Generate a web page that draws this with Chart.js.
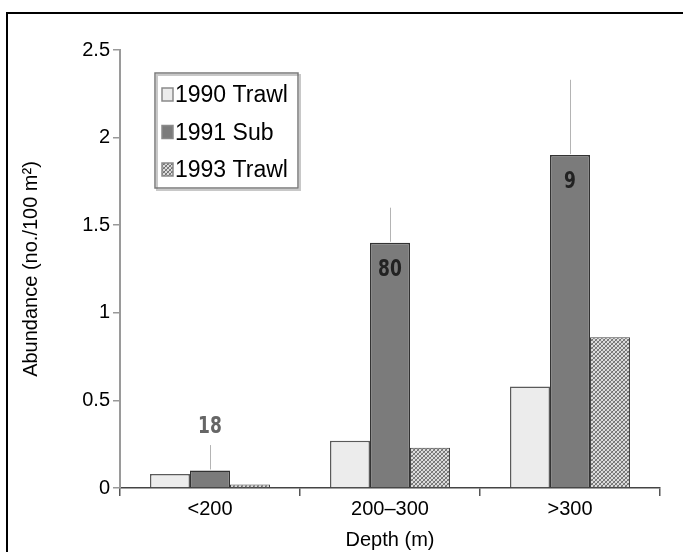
<!DOCTYPE html>
<html>
<head>
<meta charset="utf-8">
<script src="https://cdn.jsdelivr.net/npm/chart.js@4.4.0/dist/chart.umd.min.js"></script>
<style>
html, body { margin: 0; padding: 0; background: #fff; }
#wrap { position: relative; width: 683px; height: 552px; overflow: hidden; }
#frame { position: absolute; left: 6px; top: 12px; right: -10px; bottom: -10px; border-top: 2px solid #000; border-left: 2px solid #000; }
canvas { position: absolute; left: 0; top: 0; }
</style>
</head>
<body>
<div id="wrap"><div id="frame"></div><canvas id="chart" width="683" height="552"></canvas></div>
<script>
const categories = ['<200', '200–300', '>300'];
const trawl1990 = [0.08, 0.27, 0.58];
const sub1991 = [0.10, 1.40, 1.90];
const trawl1993 = [0.02, 0.23, 0.86];
const sub1991Upper = [0.245, 1.60, 2.33];   // top of the error line
const sub1991Counts = ['18', '80', '9'];
const yTicks = [0, 0.5, 1, 1.5, 2, 2.5];
const yTickLabels = ['0', '0.5', '1', '1.5', '2', '2.5'];

const FONT = "'Liberation Sans', Arial, sans-serif";
const canvas = document.getElementById('chart');

function hatch() {
	const c = document.createElement('canvas');
	c.width = 4;
	c.height = 4;
	const g = c.getContext('2d');
	g.fillStyle = '#dcdcdc';
	g.fillRect(0, 0, 4, 4);
	g.fillStyle = '#6e6e6e';
	for (let i = 0; i < 4; i++) g.fillRect(i, 3 - i, 1, 1);
	g.fillStyle = '#8c8c8c';
	for (let i = 0; i < 4; i++) g.fillRect(i, i, 1, 1);
	return canvas.getContext('2d').createPattern(c, 'repeat');
}

/* error line, sample size and the boxed legend */
const annotate = {
	id: 'annotate',
	afterDatasetsDraw(chart) {
		const ctx = chart.ctx;
		const y = chart.scales.y;
		const meta = chart.getDatasetMeta(1);
		ctx.save();
		meta.data.forEach((bar, i) => {
			const top = y.getPixelForValue(sub1991Upper[i]);
			const x = Math.round(bar.x) + 0.5;
			ctx.strokeStyle = '#b4b4b4';
			ctx.lineWidth = 1;
			ctx.beginPath();
			ctx.moveTo(x, bar.y - 1);
			ctx.lineTo(x, top);
			ctx.stroke();

			const inside = bar.base - bar.y > 60;
			const ly = inside ? bar.y + 27 : top - 18;
			ctx.save();
			ctx.translate(bar.x, ly);
			ctx.scale(1, 1.25);
			ctx.font = "bold 19px 'Liberation Sans Narrow', 'DejaVu Sans Condensed', sans-serif";
			ctx.fillStyle = inside ? '#222' : '#666';
			ctx.textAlign = 'center';
			ctx.textBaseline = 'middle';
			ctx.fillText(sub1991Counts[i], 0, 0);
			ctx.restore();
		});

		/* legend box */
		const area = chart.chartArea;
		const bx = area.left + 35, by = area.top + 23, bw = 143, bh = 115;
		ctx.fillStyle = '#fff';
		ctx.fillRect(bx, by, bw, bh);
		ctx.strokeStyle = '#c8c8c8';
		ctx.lineWidth = 2;
		ctx.strokeRect(bx + 2, by + 2, bw, bh);
		ctx.strokeStyle = '#7a7a7a';
		ctx.lineWidth = 1.5;
		ctx.strokeRect(bx, by, bw, bh);
		ctx.font = '23px ' + FONT;
		ctx.textBaseline = 'middle';
		ctx.textAlign = 'left';
		chart.data.datasets.forEach((ds, i) => {
			const cy = by + 22 + i * 37.5;
			ctx.fillStyle = ds.backgroundColor;
			ctx.fillRect(bx + 7, cy - 7, 11, 13);
			ctx.strokeStyle = '#8a8a8a';
			ctx.lineWidth = 1.5;
			ctx.strokeRect(bx + 7, cy - 7, 11, 13);
			ctx.fillStyle = '#000';
			ctx.fillText(ds.label, bx + 20, cy + 1);
		});
		ctx.restore();
	}
};

new Chart(canvas, {
	type: 'bar',
	data: {
		labels: categories,
		datasets: [
			{
				label: '1990 Trawl',
				data: trawl1990,
				backgroundColor: '#ececec',
				borderColor: '#5a5a5a',
				borderWidth: 1.5
			},
			{
				label: '1991 Sub',
				data: sub1991,
				backgroundColor: '#7b7b7b',
				borderColor: '#333',
				borderWidth: 1.5
			},
			{
				label: '1993 Trawl',
				data: trawl1993,
				backgroundColor: hatch(),
				borderColor: '#444',
				borderWidth: 1
			}
		]
	},
	options: {
		responsive: false,
		animation: false,
		layout: { padding: { top: 50, right: 23, left: 0, bottom: 0 } },
		datasets: { bar: { barPercentage: 1, categoryPercentage: 0.667 } },
		plugins: { legend: { display: false }, tooltip: { enabled: false } },
		scales: {
			x: {
				grid: { drawOnChartArea: false, tickLength: 8, color: '#555', lineWidth: 1.5 },
				border: { color: '#444', width: 1.5 },
				ticks: { color: '#000', font: { size: 20, family: FONT }, padding: 1 },
				title: { display: true, text: 'Depth (m)', color: '#000', font: { size: 20, family: FONT }, padding: { top: 6, bottom: 0 } },
				afterFit: s => { s.height = 64; }
			},
			y: {
				min: 0,
				max: 2.5,
				afterBuildTicks: s => { s.ticks = yTicks.map(v => ({ value: v })); },
				grid: { drawOnChartArea: false, tickLength: 7, color: '#999', lineWidth: 1.5 },
				border: { color: '#9a9a9a', width: 2 },
				ticks: { color: '#000', font: { size: 20, family: FONT }, padding: 3, callback: (v, i) => yTickLabels[i] },
				title: { display: true, text: 'Abundance (no./100 m²)', color: '#000', font: { size: 20, family: FONT }, padding: { top: 19, bottom: 0 } },
				afterFit: s => { s.width = 120; }
			}
		}
	},
	plugins: [annotate]
});
</script>
</body>
</html>
